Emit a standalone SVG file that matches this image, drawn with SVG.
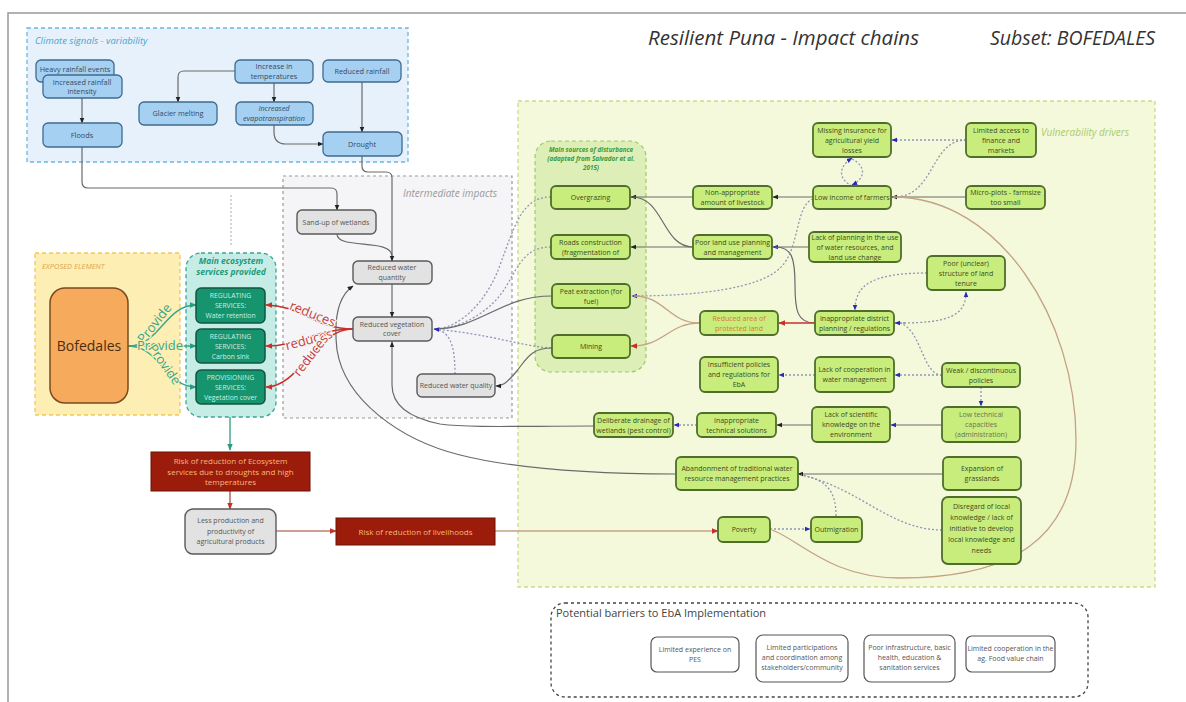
<svg xmlns="http://www.w3.org/2000/svg" width="1186" height="702" viewBox="0 0 1186 702">
<style>
text{font-family:"Open Sans","Noto Sans",sans-serif}
.n text{font-size:7.3px;text-anchor:middle}
.blue rect{fill:#a6d0f2;stroke:#3e6b8e;stroke-width:1.3}
.blue text{fill:#34495e}
.gray rect{fill:#e2e2e2;stroke:#5a5a5a;stroke-width:1.4}
.gray text{fill:#555;font-size:7px}
.grn rect{fill:#c9ed7c;stroke:#4f6e2c;stroke-width:1.8}
.grn text{fill:#3b4a22;font-size:7px}
.svc rect{fill:#16946e;stroke:#11553f;stroke-width:1.5}
.svc text{fill:#cdeee3;font-size:6.8px}
.risk rect{fill:#9c1c0b;stroke:#6e1207;stroke-width:1}
.risk text{fill:#f5b87c;font-size:8px}
.bar rect{fill:#fff;stroke:#555;stroke-width:1.2}
.bar text{fill:#555;font-size:7px}
.s{fill:none;stroke:#6a6a6a;stroke-width:1.2}
.d{fill:none;stroke:#8e96b4;stroke-width:1.3;stroke-dasharray:2 2}
.r{fill:none;stroke:#c8302a;stroke-width:1.6}
.t{fill:none;stroke:#c4a283;stroke-width:1.3}
.tl{fill:none;stroke:#3aa58a;stroke-width:1.4}
.rb{fill:none;stroke:#a04030;stroke-width:1.2}
.lbl{font-style:italic}
</style>
<defs>
<marker id="ak" viewBox="0 0 10 10" refX="9" refY="5" markerWidth="6" markerHeight="6" orient="auto" markerUnits="userSpaceOnUse"><path d="M0,1L10,5L0,9z" fill="#222"/></marker>
<marker id="ab" viewBox="0 0 10 10" refX="9" refY="5" markerWidth="6" markerHeight="6" orient="auto" markerUnits="userSpaceOnUse"><path d="M0,1L10,5L0,9z" fill="#2a2ab8"/></marker>
<marker id="ar" viewBox="0 0 10 10" refX="9" refY="5" markerWidth="7" markerHeight="7" orient="auto" markerUnits="userSpaceOnUse"><path d="M0,1L10,5L0,9z" fill="#c8302a"/></marker>
<marker id="at" viewBox="0 0 10 10" refX="9" refY="5" markerWidth="7" markerHeight="7" orient="auto" markerUnits="userSpaceOnUse"><path d="M0,1L10,5L0,9z" fill="#2a9a80"/></marker>
</defs>

<rect width="1186" height="702" fill="#fff"/>
<path d="M8,702V13H1186" fill="none" stroke="#999" stroke-width="1.5"/>
<text x="648" y="45" font-size="20.5" font-style="italic" fill="#333">Resilient Puna - Impact chains</text>
<text x="990" y="45" font-size="19.5" font-style="italic" fill="#333">Subset: BOFEDALES</text>

<!-- containers -->
<g id="climate-box">
<rect x="27" y="28" width="381" height="134" fill="#e6f1fb" stroke="#6fb6df" stroke-width="1.3" stroke-dasharray="4 3"/>
<text x="35" y="44" font-size="9.5" class="lbl" fill="#4aa3d0">Climate signals - variability</text>
</g>
<g id="intermediate-box">
<rect x="283" y="176" width="229" height="242" fill="#f5f4f6" stroke="#9a9a9a" stroke-width="1.2" stroke-dasharray="3 3"/>
<text x="403" y="197" font-size="10" class="lbl" fill="#9a9a9a">Intermediate impacts</text>
</g>
<g id="exposed-box">
<rect x="35" y="253" width="145" height="162" fill="#fdeeb3" stroke="#f2c95a" stroke-width="1.3" stroke-dasharray="4 3"/>
<text x="42" y="269" font-size="7.5" class="lbl" fill="#e0a550">EXPOSED ELEMENT</text>
</g>
<g id="services-box">
<rect x="186" y="253" width="90" height="164" rx="15" fill="#c6ece6" stroke="#3aa593" stroke-width="1.3" stroke-dasharray="4 3"/>
<text x="231" y="264" font-size="8.5" font-weight="bold" class="lbl" fill="#1e9a7a" text-anchor="middle">Main ecosystem</text>
<text x="231" y="275" font-size="8.5" font-weight="bold" class="lbl" fill="#1e9a7a" text-anchor="middle">services provided</text>
</g>
<g id="vulnerability-box">
<rect x="518" y="101" width="637" height="486" fill="#f4f9dc" stroke="#c8dc8a" stroke-width="1.3" stroke-dasharray="4 3"/>
<text x="1041" y="136" font-size="10" class="lbl" fill="#a9cc6a">Vulnerability drivers</text>
</g>
<g id="disturbance-box">
<rect x="535" y="141" width="111" height="231" rx="16" fill="#ddefb6" stroke="#9ccb6a" stroke-width="1.2" stroke-dasharray="4 3"/>
<text x="591" y="152" font-size="6.3" font-weight="bold" class="lbl" fill="#3a9a3a" text-anchor="middle">Main sources of disturbance</text>
<text x="591" y="161" font-size="6.3" font-weight="bold" class="lbl" fill="#3a9a3a" text-anchor="middle">(adapted from Salvador et al.</text>
<text x="591" y="170" font-size="6.3" font-weight="bold" class="lbl" fill="#3a9a3a" text-anchor="middle">2015)</text>
</g>
<g id="barriers-box">
<rect x="551" y="603" width="537" height="94" rx="14" fill="none" stroke="#444" stroke-width="1.3" stroke-dasharray="3 3"/>
<text x="556" y="617" font-size="11" fill="#444">Potential barriers to EbA Implementation</text>
</g>

<!-- connectors -->
<g id="connectors">
<path class="s" d="M82,98V123" marker-end="url(#ak)"/>
<path class="s" d="M235,71H184Q178,71 178,77V102" marker-end="url(#ak)"/>
<path class="s" d="M274,83V102" marker-end="url(#ak)"/>
<path class="s" d="M274,125V132Q274,144 286,144H323" marker-end="url(#ak)"/>
<path class="s" d="M362,82V132" marker-end="url(#ak)"/>
<path class="s" d="M82,147V182Q82,188 88,188H331Q337,188 337,194V210" marker-end="url(#ak)"/>
<path class="s" d="M362,156V166Q362,172 368,172H386Q392,172 392,178V261" marker-end="url(#ak)"/>
<path class="s" d="M337,234C337,250 392,238 392,256"/>
<path class="s" d="M392,284V317" marker-end="url(#ak)"/>
<path d="M231,195V245" fill="none" stroke="#aaa" stroke-width="1" stroke-dasharray="2 2"/>

<path class="tl" d="M128,346C160,346 165,305 196,305" marker-end="url(#at)"/>
<path class="tl" d="M128,346H196" marker-end="url(#at)"/>
<path class="tl" d="M128,346C160,346 165,387 196,387" marker-end="url(#at)"/>
<path class="tl" d="M230,417V450" marker-end="url(#at)"/>

<path class="r" d="M353,329C315,329 300,305 266,305" marker-end="url(#ar)"/>
<path class="r" d="M353,329C315,329 300,346 266,346" marker-end="url(#ar)"/>
<path class="r" d="M353,329C315,329 300,387 266,387" marker-end="url(#ar)"/>

<path class="rb" d="M230,491V509" marker-end="url(#ar)"/>
<path class="rb" d="M276,531H336" marker-end="url(#ar)"/>
<path class="t" d="M495,531H718" marker-end="url(#ar)"/>

<path class="s" d="M693,197H631" marker-end="url(#ak)"/>
<path class="s" d="M813,197H773" marker-end="url(#ak)"/>
<path class="s" d="M693,247H631" marker-end="url(#ak)"/>
<path class="s" d="M693,247C662,247 664,197 632,197"/>
<path class="s" d="M809,247H773" marker-end="url(#ab)"/>
<path class="s" d="M815,323C797,323 795,310 795,285C795,258 792,247 775,247"/>
<path class="s" d="M966,197H892" marker-end="url(#ak)"/>
<path class="d" d="M966,140H892" marker-end="url(#ab)"/>
<path class="d" d="M966,140C930,140 935,197 894,197"/>
<path class="d" d="M852,186C838,179 838,167 852,158" marker-end="url(#ab)"/>
<path class="d" d="M852,159C866,166 866,178 852,185" marker-end="url(#ab)"/>
<path class="d" d="M813,199C795,205 800,250 780,268C760,288 700,296 632,296" marker-end="url(#ab)"/>
<path class="t" d="M700,323C668,323 665,296 634,296"/>
<path class="t" d="M700,323C668,323 665,346 631,346" marker-end="url(#ar)"/>
<path class="r" d="M815,323H779" marker-end="url(#ar)"/>
<path class="d" d="M927,273C872,273 855,285 855,310" marker-end="url(#ab)"/>
<path class="d" d="M900,323C950,323 966,315 966,292" marker-end="url(#ab)"/>
<path d="M905,323L895,323" marker-end="url(#ab)" class="d"/>
<path class="d" d="M942,375C922,375 922,330 900,323"/>
<path class="d" d="M942,375H895" marker-end="url(#ab)"/>
<path class="d" d="M815,375H779" marker-end="url(#ab)"/>
<path class="d" d="M981,387V406" marker-end="url(#ab)"/>
<path class="s" d="M942,425H891" marker-end="url(#ab)"/>
<path class="s" d="M812,425H777" marker-end="url(#ak)"/>
<path class="d" d="M697,425H674" marker-end="url(#ab)"/>
<path class="s" d="M594,426C520,426 470,428 440,424C410,418 392,405 392,385V342" marker-end="url(#ak)"/>
<path class="s" d="M676,474C600,474 520,470 460,455C400,440 345,400 337,350C333,315 340,295 353,286" marker-end="url(#ak)"/>
<path class="s" d="M943,474H798" marker-end="url(#ak)"/>
<path class="d" d="M942,530C890,530 860,488 801,475"/>
<path class="d" d="M836,516C836,495 830,480 801,475"/>
<path class="d" d="M770,529H810" marker-end="url(#ab)"/>
<path class="t" d="M893,197C1000,197 1076,320 1076,440C1076,540 1010,578 900,578C830,578 800,540 772,530"/>

<path class="d" d="M551,197C522,197 515,225 500,265C488,300 460,329 434,329"/>
<path class="d" d="M551,247C527,247 520,262 507,285C493,310 462,329 434,329"/>
<path class="s" d="M552,296C500,296 480,329 434,329"/>
<path class="d" d="M551,348C520,346 490,334 434,329"/>
<path class="s" d="M552,348C530,348 526,360 516,372C506,384 502,386 496,386" marker-end="url(#ak)"/>
<path class="d" d="M455,374C455,345 450,331 434,329" marker-end="url(#ab)"/>
</g>

<!-- labels on connectors -->
<g font-size="13" fill="#3aa58a" text-anchor="middle" stroke="#fdeeb3" stroke-width="2.5" paint-order="stroke">
<text transform="translate(158,326) rotate(-52)">Provide</text>
<text x="160" y="350">Provide</text>
<text transform="translate(161,367) rotate(55)">Provide</text>
</g>
<g font-size="13" fill="#c84040" text-anchor="middle" stroke="#f5f4f6" stroke-width="2.5" paint-order="stroke">
<text transform="translate(311,318) rotate(22)">reduces</text>
<text transform="translate(310,344) rotate(-15)">reduces</text>
<text transform="translate(314,358) rotate(-52)">reduces</text>
</g>

<!-- climate nodes -->
<g id="n-heavy-rainfall" class="n blue"><rect x="36" y="60" width="78" height="22" rx="5"/><text x="75" y="72">Heavy rainfall events</text></g>
<g id="n-increased-rainfall" class="n blue"><rect x="43" y="75" width="79" height="23" rx="5"/><text x="82" y="84.5">Increased rainfall</text><text x="82" y="94">intensity</text></g>
<g id="n-floods" class="n blue"><rect x="43" y="123" width="79" height="24" rx="5"/><text x="82" y="137.5">Floods</text></g>
<g id="n-glacier" class="n blue"><rect x="139" y="102" width="78" height="23" rx="5"/><text x="178" y="116">Glacier melting</text></g>
<g id="n-temperature" class="n blue"><rect x="235" y="60" width="78" height="23" rx="5"/><text x="274" y="69">Increase in</text><text x="274" y="78.5">temperatures</text></g>
<g id="n-evapo" class="n blue"><rect x="236" y="102" width="77" height="23" rx="5"/><text x="274" y="111" font-style="italic">Increased</text><text x="274" y="120.5" font-style="italic">evapotranspiration</text></g>
<g id="n-reduced-rainfall" class="n blue"><rect x="323" y="60" width="78" height="22" rx="5"/><text x="362" y="73.5">Reduced rainfall</text></g>
<g id="n-drought" class="n blue"><rect x="323" y="132" width="79" height="24" rx="5"/><text x="362" y="146.5">Drought</text></g>

<!-- intermediate -->
<g id="n-sandup" class="n gray"><rect x="297" y="210" width="79" height="24" rx="5"/><text x="336" y="224.5">Sand-up of wetlands</text></g>
<g id="n-rwquantity" class="n gray"><rect x="353" y="261" width="79" height="23" rx="5"/><text x="392" y="270">Reduced water</text><text x="392" y="279.5">quantity</text></g>
<g id="n-rvc" class="n gray"><rect x="353" y="317" width="79" height="24" rx="5"/><text x="392" y="326.5">Reduced vegetation</text><text x="392" y="336">cover</text></g>
<g id="n-rwquality" class="n gray"><rect x="417" y="374" width="78" height="23" rx="5"/><text x="456" y="388">Reduced water quality</text></g>

<!-- exposed & services -->
<g id="n-bofedales"><rect x="50" y="288" width="78" height="115" rx="15" fill="#f5aa5c" stroke="#7a4a20" stroke-width="1.5"/><text x="89" y="351" font-size="14" text-anchor="middle" fill="#4a2e12">Bofedales</text></g>
<g id="n-svc-water" class="n svc"><rect x="196" y="288" width="69" height="35" rx="5"/><text x="230.5" y="298">REGULATING</text><text x="230.5" y="308">SERVICES:</text><text x="230.5" y="318">Water retention</text></g>
<g id="n-svc-carbon" class="n svc"><rect x="196" y="329" width="69" height="34" rx="5"/><text x="230.5" y="339">REGULATING</text><text x="230.5" y="349">SERVICES:</text><text x="230.5" y="359">Carbon sink</text></g>
<g id="n-svc-veg" class="n svc"><rect x="196" y="370" width="69" height="34" rx="5"/><text x="230.5" y="380">PROVISIONING</text><text x="230.5" y="390">SERVICES:</text><text x="230.5" y="400">Vegetation cover</text></g>

<!-- risks -->
<g id="n-risk-es" class="n risk"><rect x="151" y="452" width="159" height="39"/><text x="230.5" y="464">Risk of reduction of Ecosystem</text><text x="230.5" y="474.5">services due to droughts and high</text><text x="230.5" y="485">temperatures</text></g>
<g id="n-less-production" class="n gray"><rect x="185" y="509" width="91" height="45" rx="8"/><text x="230.5" y="523">Less production and</text><text x="230.5" y="533.5">productivity of</text><text x="230.5" y="544">agricultural products</text></g>
<g id="n-risk-livelihoods" class="n risk"><rect x="336" y="518" width="159" height="27"/><text x="415.5" y="534.5">Risk of reduction of livelihoods</text></g>

<!-- vulnerability nodes -->
<g id="n-overgrazing" class="n grn"><rect x="551" y="186" width="79" height="23" rx="5"/><text x="590.5" y="200">Overgrazing</text></g>
<g id="n-roads" class="n grn"><rect x="551" y="235" width="79" height="24" rx="5"/><text x="590.5" y="244.5">Roads construction</text><text x="590.5" y="254.5">(fragmentation of</text></g>
<g id="n-peat" class="n grn"><rect x="552" y="284" width="78" height="24" rx="5"/><text x="591" y="293.5">Peat extraction (for</text><text x="591" y="303.5">fuel)</text></g>
<g id="n-mining" class="n grn"><rect x="552" y="335" width="78" height="23" rx="5"/><text x="591" y="349">Mining</text></g>
<g id="n-livestock" class="n grn"><rect x="693" y="186" width="79" height="23" rx="5"/><text x="732.5" y="194.5">Non-appropriate</text><text x="732.5" y="204.5">amount of livestock</text></g>
<g id="n-landuse" class="n grn"><rect x="693" y="235" width="79" height="24" rx="5"/><text x="732.5" y="244.5">Poor land use planning</text><text x="732.5" y="254.5">and management</text></g>
<g id="n-insurance" class="n grn"><rect x="813" y="123" width="78" height="34" rx="5"/><text x="852" y="132.7">Missing insurance for</text><text x="852" y="142.7">agricultural yield</text><text x="852" y="152.7">losses</text></g>
<g id="n-finance" class="n grn"><rect x="966" y="123" width="70" height="34" rx="5"/><text x="1001" y="132.7">Limited access to</text><text x="1001" y="142.7">finance and</text><text x="1001" y="152.7">markets</text></g>
<g id="n-income" class="n grn"><rect x="813" y="186" width="78" height="23" rx="5"/><text x="852" y="200">Low income of farmers</text></g>
<g id="n-microplots" class="n grn"><rect x="966" y="186" width="79" height="23" rx="5"/><text x="1005.5" y="194.5">Micro-plots - farmsize</text><text x="1005.5" y="204.5">too small</text></g>
<g id="n-water-planning" class="n grn"><rect x="809" y="232" width="92" height="30" rx="5"/><text x="855" y="239.7">Lack of planning in the use</text><text x="855" y="249.7">of water resources, and</text><text x="855" y="259.7">land use change</text></g>
<g id="n-tenure" class="n grn"><rect x="927" y="256" width="78" height="34" rx="5"/><text x="966" y="265.7">Poor (unclear)</text><text x="966" y="275.7">structure of land</text><text x="966" y="285.7">tenure</text></g>
<g id="n-protected" class="n grn"><rect x="700" y="311" width="78" height="24" rx="5"/><text x="739" y="320.5" style="fill:#d77a2a">Reduced area of</text><text x="739" y="330.5" style="fill:#d77a2a">protected land</text></g>
<g id="n-district" class="n grn"><rect x="815" y="311" width="79" height="24" rx="5"/><text x="854.5" y="320.5">Inappropriate district</text><text x="854.5" y="330.5">planning / regulations</text></g>
<g id="n-insufficient" class="n grn"><rect x="700" y="357" width="78" height="35" rx="5"/><text x="739" y="367.2">Insufficient policies</text><text x="739" y="377.2">and regulations for</text><text x="739" y="387.2">EbA</text></g>
<g id="n-cooperation" class="n grn"><rect x="815" y="357" width="79" height="35" rx="5"/><text x="854.5" y="372.2">Lack of cooperation in</text><text x="854.5" y="382.2">water management</text></g>
<g id="n-weak" class="n grn"><rect x="942" y="363" width="78" height="24" rx="5"/><text x="981" y="372.5">Weak / discontinuous</text><text x="981" y="382.5">policies</text></g>
<g id="n-drainage" class="n grn"><rect x="594" y="413" width="79" height="24" rx="5"/><text x="633.5" y="422.5">Deliberate drainage of</text><text x="633.5" y="432.5">wetlands (pest control)</text></g>
<g id="n-technical" class="n grn"><rect x="697" y="413" width="79" height="24" rx="5"/><text x="736.5" y="422.5">Inappropriate</text><text x="736.5" y="432.5">technical solutions</text></g>
<g id="n-scientific" class="n grn"><rect x="812" y="407" width="78" height="35" rx="5"/><text x="851" y="417.2">Lack of scientific</text><text x="851" y="427.2">knowledge on the</text><text x="851" y="437.2">environment</text></g>
<g id="n-capacities" class="n grn"><rect x="942" y="407" width="78" height="35" rx="5"/><text x="981" y="417.2" style="fill:#6b7255">Low technical</text><text x="981" y="427.2" style="fill:#6b7255">capacities</text><text x="981" y="437.2" style="fill:#6b7255">(administration)</text></g>
<g id="n-abandonment" class="n grn"><rect x="676" y="457" width="122" height="33" rx="5"/><text x="737" y="471">Abandonment of traditional water</text><text x="737" y="481">resource management practices</text></g>
<g id="n-grasslands" class="n grn"><rect x="943" y="457" width="78" height="33" rx="5"/><text x="982" y="471">Expansion of</text><text x="982" y="481">grasslands</text></g>
<g id="n-disregard" class="n grn"><rect x="942" y="497" width="79" height="67" rx="6"/><text x="981.5" y="508.7">Disregard of local</text><text x="981.5" y="519.7">knowledge / lack of</text><text x="981.5" y="530.7">initiative to develop</text><text x="981.5" y="541.7">local knowledge and</text><text x="981.5" y="552.7">needs</text></g>
<g id="n-poverty" class="n grn"><rect x="718" y="517" width="52" height="25" rx="5"/><text x="744" y="532">Poverty</text></g>
<g id="n-outmigration" class="n grn"><rect x="811" y="517" width="51" height="25" rx="5"/><text x="836.5" y="532">Outmigration</text></g>

<!-- barriers -->
<g id="n-pes" class="n bar"><rect x="651" y="637" width="88" height="35" rx="6"/><text x="695" y="652">Limited experience on</text><text x="695" y="662">PES</text></g>
<g id="n-participation" class="n bar"><rect x="756" y="635" width="92" height="47" rx="7"/><text x="802" y="650">Limited participations</text><text x="802" y="660">and coordination among</text><text x="802" y="670">stakeholders/community</text></g>
<g id="n-infrastructure" class="n bar"><rect x="864" y="635" width="91" height="47" rx="7"/><text x="909.5" y="650">Poor infrastructure, basic</text><text x="909.5" y="660">health, education &amp;</text><text x="909.5" y="670">sanitation services</text></g>
<g id="n-valuechain" class="n bar"><rect x="966" y="636" width="89" height="36" rx="6"/><text x="1010.5" y="651">Limited cooperation in the</text><text x="1010.5" y="661">ag. Food value chain</text></g>
</svg>
